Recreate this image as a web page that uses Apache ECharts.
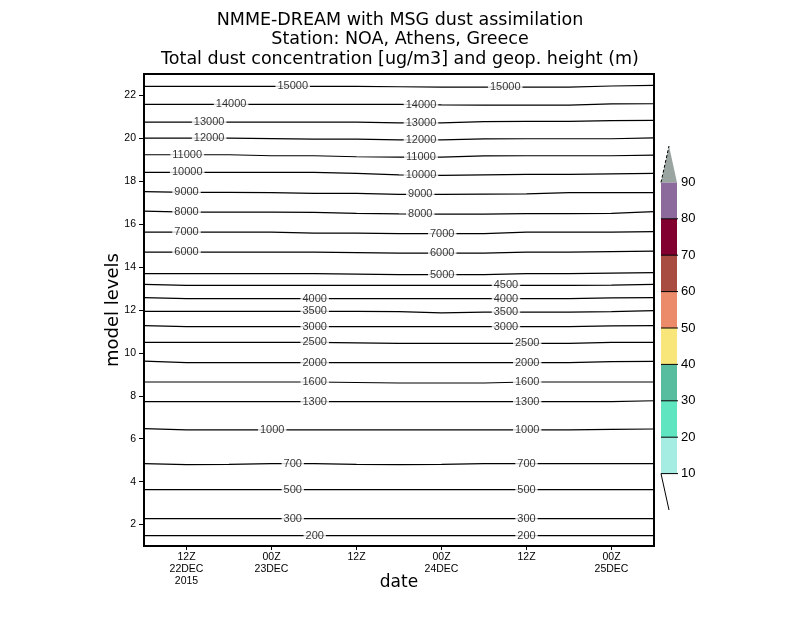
<!DOCTYPE html>
<html>
<head>
<meta charset="utf-8">
<title>NMME-DREAM dust, NOA Athens</title>
<script src="https://cdn.jsdelivr.net/npm/echarts@6/dist/echarts.min.js"></script>
<style>
html, body { margin: 0; padding: 0; background: #fff; }
#chart { width: 800px; height: 618px; }
</style>
</head>
<body>
<div id="chart"></div>
<script>
// x = hours since 00Z 22DEC2015
var hours = [6, 12, 18, 24, 30, 36, 42, 48, 54, 60, 66, 72, 78];

// geopotential height contours (m)
var heights = [15000, 14000, 13000, 12000, 11000, 10000, 9000, 8000, 7000, 6000,
               5000, 4500, 4000, 3500, 3000, 2500, 2000, 1600, 1300, 1000, 700, 500, 300, 200];

// model level of each contour at every hour above
var levels = [
    [22.42, 22.42, 22.42, 22.42, 22.42, 22.42, 22.405, 22.39, 22.39, 22.39, 22.39, 22.44, 22.466],
    [21.58, 21.58, 21.58, 21.58, 21.58, 21.58, 21.58, 21.557, 21.548, 21.548, 21.548, 21.604, 21.613],
    [20.756, 20.756, 20.756, 20.756, 20.756, 20.756, 20.719, 20.719, 20.78, 20.79, 20.79, 20.826, 20.835],
    [20.01, 20.01, 20.01, 19.987, 19.964, 19.964, 19.927, 19.927, 19.973, 19.983, 19.983, 19.983, 20.02],
    [19.237, 19.237, 19.237, 19.19, 19.19, 19.144, 19.121, 19.121, 19.181, 19.19, 19.19, 19.19, 19.223],
    [18.413, 18.413, 18.413, 18.413, 18.413, 18.366, 18.297, 18.273, 18.297, 18.32, 18.32, 18.343, 18.366],
    [17.513, 17.481, 17.481, 17.467, 17.434, 17.434, 17.388, 17.388, 17.402, 17.411, 17.467, 17.467, 17.467],
    [16.61, 16.563, 16.563, 16.563, 16.549, 16.503, 16.479, 16.47, 16.47, 16.489, 16.489, 16.503, 16.582],
    [15.632, 15.632, 15.632, 15.632, 15.585, 15.585, 15.557, 15.557, 15.557, 15.632, 15.632, 15.632, 15.655],
    [14.70, 14.70, 14.70, 14.70, 14.70, 14.676, 14.653, 14.653, 14.653, 14.70, 14.70, 14.723, 14.746],
    [13.694, 13.694, 13.694, 13.694, 13.694, 13.67, 13.647, 13.647, 13.647, 13.694, 13.694, 13.717, 13.74],
    [13.195, 13.148, 13.148, 13.148, 13.148, 13.148, 13.148, 13.148, 13.148, 13.148, 13.148, 13.157, 13.195],
    [12.575, 12.529, 12.529, 12.529, 12.529, 12.529, 12.529, 12.529, 12.529, 12.529, 12.529, 12.561, 12.575],
    [11.937, 11.937, 11.937, 11.937, 11.937, 11.937, 11.923, 11.867, 11.905, 11.905, 11.905, 11.928, 11.97],
    [11.271, 11.224, 11.224, 11.224, 11.224, 11.224, 11.224, 11.224, 11.224, 11.224, 11.224, 11.257, 11.271],
    [10.493, 10.493, 10.493, 10.493, 10.493, 10.47, 10.446, 10.446, 10.446, 10.446, 10.446, 10.493, 10.493],
    [9.617, 9.547, 9.547, 9.547, 9.547, 9.547, 9.547, 9.547, 9.547, 9.547, 9.547, 9.594, 9.608],
    [8.643, 8.643, 8.643, 8.643, 8.643, 8.62, 8.597, 8.597, 8.597, 8.643, 8.643, 8.643, 8.643],
    [7.73, 7.73, 7.73, 7.73, 7.73, 7.73, 7.73, 7.73, 7.73, 7.73, 7.73, 7.73, 7.77],
    [6.472, 6.416, 6.416, 6.416, 6.416, 6.416, 6.416, 6.416, 6.416, 6.416, 6.416, 6.44, 6.454],
    [4.842, 4.795, 4.809, 4.842, 4.842, 4.809, 4.795, 4.809, 4.842, 4.842, 4.842, 4.842, 4.842],
    [3.631, 3.631, 3.631, 3.631, 3.631, 3.631, 3.631, 3.631, 3.631, 3.631, 3.631, 3.631, 3.631],
    [2.28, 2.28, 2.28, 2.28, 2.28, 2.28, 2.28, 2.28, 2.28, 2.28, 2.28, 2.28, 2.28],
    [1.488, 1.488, 1.488, 1.488, 1.488, 1.488, 1.488, 1.488, 1.488, 1.488, 1.488, 1.488, 1.488]
];

// where the contour labels sit (hours)
var labelHours = [
    [27, 57], [18.3, 45.1], [15.2, 45.1], [15.2, 45.1], [12.1, 45.1], [12.1, 45.1],
    [12, 45], [12, 45], [12, 48.1], [12, 48.1], [48.1], [57.1],
    [30.1, 57.1], [30.1, 57.1], [30.1, 57.1], [30.1, 60.1], [30.1, 60.1], [30.1, 60.1],
    [30.1, 60.1], [24.1, 60.1], [27, 60], [27, 60], [27, 60], [30.1, 60]
];

var titleLines = ['NMME-DREAM with MSG dust assimilation',
                  'Station: NOA, Athens, Greece',
                  'Total dust concentration [ug/m3] and geop. height (m)'];
var xTicks = [12, 24, 36, 48, 60, 72];
var xTickLabels = ['12Z\n22DEC\n2015', '00Z\n23DEC', '12Z', '00Z\n24DEC', '12Z', '00Z\n25DEC'];
var yTicks = [2, 4, 6, 8, 10, 12, 14, 16, 18, 20, 22];

// dust concentration shading scale (ug/m3)
var dustBounds = [10, 20, 30, 40, 50, 60, 70, 80, 90];
var dustColors = ['#a5ede3', '#5fe5bf', '#58bc9e', '#f8e67a', '#eb8b69',
                  '#a84c42', '#82002f', '#8c6a9c', '#9aa5a1'];

var smallFont = 'Liberation Sans';
var bigFont = 'DejaVu Sans';

function interp(row, h) {
    for (var j = 0; j < hours.length - 1; j++) {
        if (h >= hours[j] && h <= hours[j + 1]) {
            var t = (h - hours[j]) / (hours[j + 1] - hours[j]);
            return row[j] + t * (row[j + 1] - row[j]);
        }
    }
    return row[row.length - 1];
}

var series = [];
var labelPts = [];
heights.forEach(function (hgt, i) {
    series.push({
        type: 'line',
        name: String(hgt),
        data: hours.map(function (h, j) { return [h, levels[i][j]]; }),
        symbol: 'none',
        silent: true,
        lineStyle: { color: '#000', width: 1.2 },
        z: 2
    });
    labelHours[i].forEach(function (h) {
        labelPts.push([h, interp(levels[i], h), String(hgt)]);
    });
});

series.push({
    type: 'scatter',
    data: labelPts,
    symbolSize: 1,
    itemStyle: { color: '#fff' },
    silent: true,
    z: 5,
    label: {
        show: true,
        position: 'inside',
        formatter: function (p) { return p.value[2]; },
        backgroundColor: '#fff',
        padding: [1, 2],
        color: '#000',
        fontSize: 11,
        fontFamily: smallFont
    }
});

// colour bar: boxes between bounds, arrow above the last bound, open arrow below the first
var barData = [[0, dustBounds[0], -1]];
dustBounds.forEach(function (b, k) {
    barData.push([b, k < dustBounds.length - 1 ? dustBounds[k + 1] : 100, k]);
});

function renderBar(params, api) {
    var lo = api.value(0), hi = api.value(1), k = api.value(2);
    var a = api.coord([0, lo]), b = api.coord([1, hi]);
    var x0 = a[0], x1 = b[0], yl = a[1], yh = b[1], xm = (x0 + x1) / 2;
    if (k < 0) {
        return { type: 'line', shape: { x1: x0, y1: yh, x2: xm, y2: yl },
                 style: { stroke: '#000', lineWidth: 1 } };
    }
    if (k === dustColors.length - 1) {
        return { type: 'group', children: [
            { type: 'polygon', shape: { points: [[x0, yl], [x1, yl], [xm, yh]] },
              style: { fill: dustColors[k] } },
            { type: 'line', shape: { x1: x0, y1: yl, x2: xm, y2: yh },
              style: { stroke: '#000', lineWidth: 1, lineDash: [3, 2] } }
        ] };
    }
    return { type: 'group', children: [
        { type: 'rect', shape: { x: x0, y: yh, width: x1 - x0, height: yl - yh },
          style: { fill: dustColors[k] } },
        { type: 'line', shape: { x1: x0, y1: yl, x2: x1 + 1, y2: yl },
          style: { stroke: '#000', lineWidth: 1 } }
    ] };
}

series.push({
    type: 'custom',
    xAxisIndex: 1,
    yAxisIndex: 1,
    data: barData,
    renderItem: renderBar,
    silent: true
});

var titles = titleLines.map(function (t, i) {
    return {
        text: t,
        left: 'center',
        top: 11 + i * 19.5,
        padding: 0,
        textStyle: { fontFamily: bigFont, fontSize: 17.5, fontWeight: 'normal', color: '#000' }
    };
});

var chart = echarts.init(document.getElementById('chart'));
chart.setOption({
    animation: false,
    backgroundColor: '#fff',
    title: titles,
    grid: [
        { left: 144, top: 74, right: 146, bottom: 72, show: true,
          borderColor: '#000', borderWidth: 2, backgroundColor: 'transparent' },
        { left: 661, top: 146, width: 16, height: 364, show: false }
    ],
    xAxis: [
        {
            type: 'value', gridIndex: 0, min: 6, max: 78,
            name: 'date', nameLocation: 'middle', nameGap: 28, nameMoveOverlap: false,
            nameTextStyle: { fontFamily: bigFont, fontSize: 17, color: '#000' },
            axisLine: { show: false },
            axisTick: { show: true, inside: false, length: 4, customValues: xTicks,
                        lineStyle: { color: '#000', width: 1 } },
            axisLabel: {
                customValues: xTicks, margin: 5, color: '#000', fontSize: 10.5,
                fontFamily: smallFont, lineHeight: 12,
                formatter: function (v) { return xTickLabels[xTicks.indexOf(v)] || ''; }
            },
            splitLine: { show: false }
        },
        { type: 'value', gridIndex: 1, min: 0, max: 1, show: false }
    ],
    yAxis: [
        {
            type: 'value', gridIndex: 0, min: 1, max: 23,
            name: 'model levels', nameLocation: 'middle', nameGap: 22, nameRotate: 90,
            nameMoveOverlap: false,
            nameTextStyle: { fontFamily: bigFont, fontSize: 18, color: '#000' },
            axisLine: { show: false },
            axisTick: { show: true, inside: false, length: 5, customValues: yTicks,
                        lineStyle: { color: '#000', width: 1 } },
            axisLabel: { customValues: yTicks, margin: 8, color: '#000', fontSize: 10.5,
                         fontFamily: smallFont },
            splitLine: { show: false }
        },
        {
            type: 'value', gridIndex: 1, min: 0, max: 100, position: 'right',
            axisLine: { show: false },
            axisTick: { show: false },
            splitLine: { show: false },
            axisLabel: { customValues: dustBounds, margin: 4, color: '#000', fontSize: 13,
                         fontFamily: smallFont }
        }
    ],
    series: series
});
</script>
</body>
</html>
